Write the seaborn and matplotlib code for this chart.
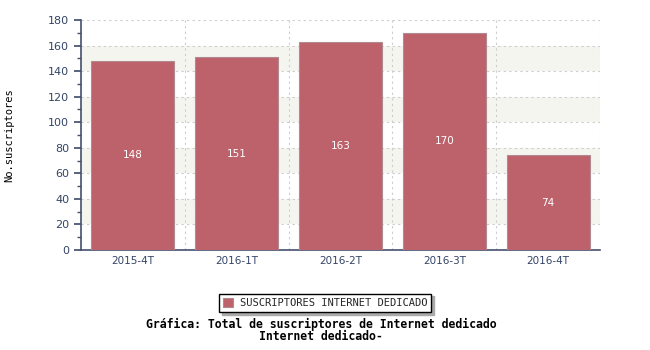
import matplotlib
matplotlib.use("Agg")
import matplotlib.pyplot as plt
import seaborn as sns
import pandas as pd
from matplotlib.ticker import MultipleLocator

periods = ["2015-4T", "2016-1T", "2016-2T", "2016-3T", "2016-4T"]
values = [148, 151, 163, 170, 74]
series_name = "SUSCRIPTORES INTERNET DEDICADO"
ylabel = "No.suscriptores"
title1 = "Gráfica: Total de suscriptores de Internet dedicado"
title2 = "Internet dedicado-"

sns.set_theme(style="white")
plt.rcParams['font.family'] = ['DejaVu Sans Mono', 'DejaVu Sans']

df = pd.DataFrame({"periodo": periods, "valor": values})

fig = plt.figure(figsize=(6.5, 3.5), dpi=100)
ax = fig.add_axes([81/650, 1-250/350, (600-81)/650, 230/350])

bar_color = "#bd616b"
sns.barplot(data=df, x="periodo", y="valor", ax=ax, color=bar_color,
            width=0.8, saturation=1, edgecolor="#b08a90", linewidth=0.8,
            label=series_name, zorder=3)

ax.set_xlim(-0.5, len(periods) - 0.5)
ax.set_ylim(0, 180)

# alternating bands
for lo in range(20, 180, 40):
    ax.axhspan(lo, lo + 20, color="#f5f5f0", zorder=0, lw=0)

# grid
for y in range(20, 181, 20):
    ax.axhline(y, color="#cccccc", ls=(0, (2, 3)), lw=0.8, zorder=1)
for i in range(len(periods)):
    ax.axvline(i + 0.5, color="#cccccc", ls=(0, (2, 3)), lw=0.8, zorder=1)

sans = "DejaVu Sans"
# labels
for i, v in enumerate(values):
    ax.text(i, v / 2, str(v), ha="center", va="center", color="white",
            fontsize=7.5, family=sans, zorder=4)

axis_col = "#44506e"
for s in ["top", "right"]:
    ax.spines[s].set_visible(False)
ax.spines["left"].set_color(axis_col)
ax.spines["bottom"].set_color(axis_col)
ax.spines["left"].set_linewidth(1.2)
ax.spines["bottom"].set_linewidth(1.2)

ax.yaxis.set_major_locator(MultipleLocator(20))
ax.yaxis.set_minor_locator(MultipleLocator(10))
ax.set_xticks([i + 0.5 for i in range(-1, len(periods))], minor=False)
ax.set_xticklabels([])
ax.set_xticks(range(len(periods)), minor=True)
ax.set_xticklabels(periods, minor=True)
ax.tick_params(axis="x", which="major", length=5, color=axis_col, direction="out")
ax.tick_params(axis="x", which="minor", length=0, labelsize=7.5, labelcolor="#334466", pad=4)
ax.tick_params(axis="y", which="major", length=5, color=axis_col, labelsize=8,
               labelcolor="#334466", left=True, direction="out")
ax.tick_params(axis="y", which="minor", length=3, color=axis_col, left=True, direction="out")
for lbl in ax.get_yticklabels() + ax.get_xticklabels(minor=True):
    lbl.set_family(sans)

ax.set_xlabel("")
ax.set_ylabel(ylabel, fontsize=7.5, color="black", labelpad=0)
ax.yaxis.set_label_coords(-0.128, 0.5)

if ax.get_legend() is not None:
    ax.get_legend().remove()
handles, labels = ax.get_legend_handles_labels()
leg = fig.legend(handles[:1], [series_name], loc="center",
                 bbox_to_anchor=(325/650, 1-303/350), frameon=True,
                 fancybox=False, shadow={"color": "#aaaaaa", "alpha": 1},
                 fontsize=7.5, handlelength=1.0, handleheight=1.0,
                 borderpad=0.4, handletextpad=0.6)
leg.get_frame().set_edgecolor("black")
leg.get_frame().set_linewidth(1.0)

fig.text(321/650, 1-324/350, title1, ha="center", va="center",
         fontsize=8.3, fontweight="bold", color="black")
fig.text(321/650, 1-337/350, title2, ha="center", va="center",
         fontsize=8.3, fontweight="bold", color="black")

fig.savefig("out.png", dpi=100)
